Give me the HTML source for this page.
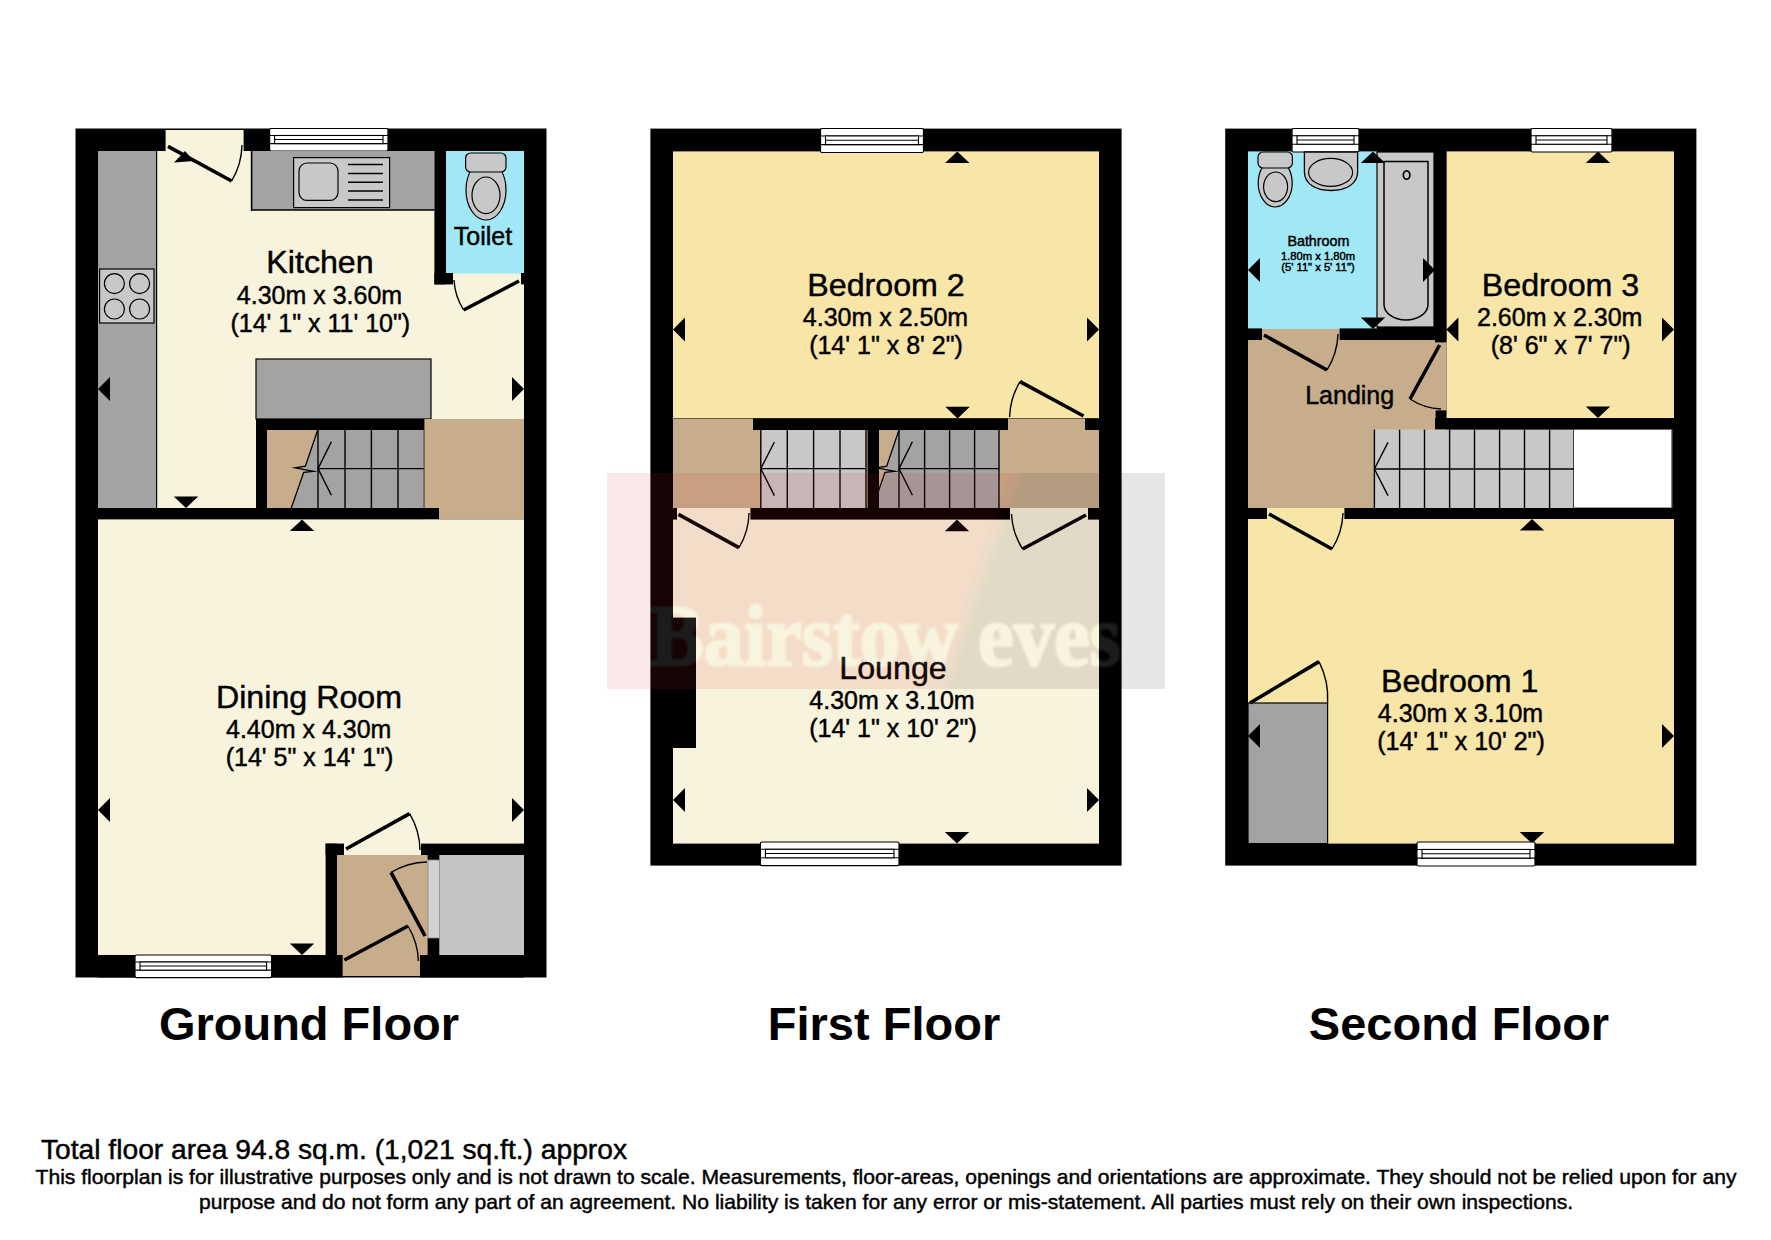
<!DOCTYPE html>
<html><head><meta charset="utf-8"><style>
html,body{margin:0;padding:0;background:#fff;}
svg{display:block;}
text{font-family:"Liberation Sans",sans-serif;}
</style></head><body>
<svg width="1771" height="1240" viewBox="0 0 1771 1240">
<rect width="1771" height="1240" fill="#fff"/>
<rect x="75.5" y="128.5" width="471.0" height="849.0" fill="#000" />
<rect x="98" y="151" width="426" height="357" fill="#f8f3dc" />
<rect x="165.6" y="130" width="78.0" height="21" fill="#f8f3dc" />
<rect x="269.6" y="128.5" width="118.39999999999998" height="22.5" rx="1.5" fill="#fff" stroke="#000" stroke-width="1.2"/>
<line x1="269.6" y1="135.475" x2="388" y2="135.475" stroke="#000" stroke-width="1.1" />
<line x1="269.6" y1="143.575" x2="388" y2="143.575" stroke="#000" stroke-width="1.1" />
<rect x="274.6" y="135.475" width="108.39999999999998" height="8.099999999999994" fill="#fff" stroke="#000" stroke-width="1.1"/>
<line x1="274.6" y1="139.52499999999998" x2="383" y2="139.52499999999998" stroke="#000" stroke-width="1.1" />
<rect x="98" y="151" width="59" height="357" fill="#a3a3a3" />
<line x1="156.6" y1="151" x2="156.6" y2="508" stroke="#000" stroke-width="1.2" />
<rect x="251" y="151" width="183.4" height="59" fill="#a3a3a3" />
<line x1="251.6" y1="151" x2="251.6" y2="210.8" stroke="#000" stroke-width="1.6" />
<line x1="251" y1="210" x2="434.4" y2="210" stroke="#000" stroke-width="1.7" />
<rect x="293.6" y="157.6" width="96.0" height="50.0" fill="#c8c8c8" stroke="#000" stroke-width="1.2"/>
<rect x="299" y="163" width="39" height="37.4" fill="#c8c8c8" rx="8" stroke="#000" stroke-width="1.2"/>
<line x1="348" y1="164.4" x2="383" y2="164.4" stroke="#000" stroke-width="1.5" />
<line x1="348" y1="173.4" x2="383" y2="173.4" stroke="#000" stroke-width="1.5" />
<line x1="348" y1="182.2" x2="383" y2="182.2" stroke="#000" stroke-width="1.5" />
<line x1="348" y1="191" x2="383" y2="191" stroke="#000" stroke-width="1.5" />
<line x1="348" y1="200" x2="383" y2="200" stroke="#000" stroke-width="1.5" />
<rect x="99.6" y="269" width="54.4" height="54" fill="#c8c8c8" stroke="#000" stroke-width="1.2"/>
<circle cx="114.4" cy="283.6" r="10" fill="#c8c8c8" stroke="#000" stroke-width="1.2"/>
<circle cx="139.6" cy="283.6" r="10" fill="#c8c8c8" stroke="#000" stroke-width="1.2"/>
<circle cx="114.4" cy="309" r="10" fill="#c8c8c8" stroke="#000" stroke-width="1.2"/>
<circle cx="139.6" cy="309" r="10" fill="#c8c8c8" stroke="#000" stroke-width="1.2"/>
<rect x="434.4" y="151" width="11.6" height="133.4" fill="#000" />
<rect x="446" y="151" width="78" height="122.6" fill="#a1e8f6" />
<rect x="434.4" y="273" width="18.6" height="11.4" fill="#000" />
<rect x="521" y="273" width="3" height="11.4" fill="#000" />
<ellipse cx="486" cy="190" rx="20" ry="30" fill="#c8c8c8" stroke="#000" stroke-width="1.2"/>
<rect x="465.6" y="153" width="40.4" height="19" fill="#c8c8c8" rx="5" stroke="#000" stroke-width="1.2"/>
<ellipse cx="486" cy="195.3" rx="14" ry="18.3" fill="#c8c8c8" stroke="#000" stroke-width="1.2"/>
<text x="483" y="245" font-size="25" font-weight="400" text-anchor="middle" fill="#000" stroke="#000" stroke-width="0.45">Toilet</text>
<line x1="519" y1="281" x2="463.6" y2="310" stroke="#000" stroke-width="3.6" stroke-linecap="butt"/>
<path d="M463.6,310 A62.5,62.5 0 0 1 454,280" fill="none" stroke="#000" stroke-width="1.4" />
<rect x="256" y="359" width="175" height="60" fill="#a3a3a3" stroke="#000" stroke-width="1.2"/>
<rect x="267" y="430" width="157.4" height="78" fill="#c8ad8c" />
<polygon points="317.7,430 305.4,466.2 295.1,467.9 313.6,471.3 303.7,472.3 291.3,508 424.4,508 424.4,430" fill="#a3a3a3"/>
<path d="M317.7,430.0 L305.4,466.2 L295.1,467.9 L313.6,471.3 L303.7,472.3 L291.3,508.0" fill="none" stroke="#000" stroke-width="1.3" stroke-linejoin="miter" stroke-miterlimit="10"/>
<line x1="318" y1="430" x2="318" y2="508" stroke="#000" stroke-width="1.4" />
<line x1="345" y1="430" x2="345" y2="508" stroke="#000" stroke-width="1.4" />
<line x1="371.4" y1="430" x2="371.4" y2="508" stroke="#000" stroke-width="1.4" />
<line x1="398" y1="430" x2="398" y2="508" stroke="#000" stroke-width="1.4" />
<line x1="424.4" y1="430" x2="424.4" y2="508" stroke="#000" stroke-width="1.4" />
<line x1="318" y1="468.6" x2="424.4" y2="468.6" stroke="#000" stroke-width="1.4" />
<line x1="318" y1="468.6" x2="331.4" y2="441.8" stroke="#000" stroke-width="1.4" />
<line x1="318" y1="468.6" x2="331.4" y2="495.3" stroke="#000" stroke-width="1.4" />
<rect x="256" y="419" width="183" height="11" fill="#000" />
<rect x="256" y="419" width="11" height="89" fill="#000" />
<rect x="424.4" y="419" width="99.6" height="100.4" fill="#c8ad8c" />
<rect x="98" y="508" width="341" height="11.4" fill="#000" />
<rect x="98" y="519.4" width="426" height="435.6" fill="#f8f3dc" />
<rect x="337" y="855" width="91" height="100" fill="#c8ad8c" />
<rect x="342.4" y="955" width="77.6" height="21" fill="#c8ad8c" />
<rect x="325.6" y="843.6" width="11.4" height="111.4" fill="#000" />
<rect x="325.6" y="843.6" width="18.4" height="11.4" fill="#000" />
<rect x="421" y="843.6" width="103" height="11.4" fill="#000" />
<rect x="427.6" y="855" width="12.0" height="5" fill="#000" />
<rect x="427.6" y="938" width="12.0" height="17" fill="#000" />
<rect x="439.6" y="855" width="84.4" height="100" fill="#c4c4c4" />
<rect x="428" y="860" width="11.6" height="78" fill="#d2d2d2" stroke="#888" stroke-width="0.8"/>
<rect x="98" y="955" width="244.4" height="22.5" fill="#000" />
<rect x="420" y="955" width="104" height="22.5" fill="#000" />
<rect x="135" y="955" width="136.60000000000002" height="22.600000000000023" rx="1.5" fill="#fff" stroke="#000" stroke-width="1.2"/>
<line x1="135" y1="962.006" x2="271.6" y2="962.006" stroke="#000" stroke-width="1.1" />
<line x1="135" y1="970.142" x2="271.6" y2="970.142" stroke="#000" stroke-width="1.1" />
<rect x="140" y="962.006" width="126.60000000000002" height="8.136000000000081" fill="#fff" stroke="#000" stroke-width="1.1"/>
<line x1="140" y1="966.0740000000001" x2="266.6" y2="966.0740000000001" stroke="#000" stroke-width="1.1" />
<polygon points="98,389 110,377 110,401" fill="#000"/>
<polygon points="524,389 512,377 512,401" fill="#000"/>
<polygon points="186,508 173.8,496.4 198.2,496.4" fill="#000"/>
<polygon points="302,519.4 289.8,531.0 314.2,531.0" fill="#000"/>
<polygon points="98,810 110,798 110,822" fill="#000"/>
<polygon points="524,810 512,798 512,822" fill="#000"/>
<polygon points="302,955 289.8,943.4 314.2,943.4" fill="#000"/>
<line x1="168" y1="146.4" x2="231.6" y2="181" stroke="#000" stroke-width="3.6" stroke-linecap="butt"/>
<path d="M231.6,181 A72.4,72.4 0 0 0 242,145" fill="none" stroke="#000" stroke-width="1.4" />
<polygon points="174,162.5 185,151 194,161" fill="#000"/>
<line x1="346" y1="849" x2="409.6" y2="813.6" stroke="#000" stroke-width="3.6" stroke-linecap="butt"/>
<path d="M409.6,813.6 A72.8,72.8 0 0 1 420,850" fill="none" stroke="#000" stroke-width="1.4" />
<line x1="425" y1="936" x2="391" y2="872.4" stroke="#000" stroke-width="3.6" stroke-linecap="butt"/>
<path d="M391,872.4 A72.1,72.1 0 0 1 427,862" fill="none" stroke="#000" stroke-width="1.4" />
<line x1="344.4" y1="960" x2="408" y2="926" stroke="#000" stroke-width="3.6" stroke-linecap="butt"/>
<path d="M408,926 A72.1,72.1 0 0 1 418.4,961" fill="none" stroke="#000" stroke-width="1.4" />
<text x="320" y="273" font-size="32.2" font-weight="400" text-anchor="middle" fill="#000" stroke="#000" stroke-width="0.45">Kitchen</text>
<text x="319.5" y="304" font-size="25" font-weight="400" text-anchor="middle" fill="#000" stroke="#000" stroke-width="0.45">4.30m x 3.60m</text>
<text x="320.3" y="332" font-size="25" font-weight="400" text-anchor="middle" fill="#000" stroke="#000" stroke-width="0.45">(14' 1&quot; x 11' 10&quot;)</text>
<text x="309" y="708.4" font-size="32.2" font-weight="400" text-anchor="middle" fill="#000" stroke="#000" stroke-width="0.45">Dining Room</text>
<text x="308.7" y="738" font-size="25" font-weight="400" text-anchor="middle" fill="#000" stroke="#000" stroke-width="0.45">4.40m x 4.30m</text>
<text x="309.5" y="766" font-size="25" font-weight="400" text-anchor="middle" fill="#000" stroke="#000" stroke-width="0.45">(14' 5&quot; x 14' 1&quot;)</text>
<text x="309" y="1040" font-size="47.0" font-weight="700" text-anchor="middle" fill="#000">Ground Floor</text>
<rect x="650.4" y="128.6" width="471.2" height="737.0" fill="#000" />
<rect x="673" y="151.4" width="426" height="267.0" fill="#f8e5a8" />
<rect x="820.5" y="128.5" width="103.0" height="24.0" rx="1.5" fill="#fff" stroke="#000" stroke-width="1.2"/>
<line x1="820.5" y1="135.94" x2="923.5" y2="135.94" stroke="#000" stroke-width="1.1" />
<line x1="820.5" y1="144.58" x2="923.5" y2="144.58" stroke="#000" stroke-width="1.1" />
<rect x="825.5" y="135.94" width="93.0" height="8.640000000000015" fill="#fff" stroke="#000" stroke-width="1.1"/>
<line x1="825.5" y1="140.26" x2="918.5" y2="140.26" stroke="#000" stroke-width="1.1" />
<polygon points="957.3,151.4 945.0999999999999,163.0 969.5,163.0" fill="#000"/>
<polygon points="673,329.6 685,317.6 685,341.6" fill="#000"/>
<polygon points="1099,329.6 1087,317.6 1087,341.6" fill="#000"/>
<polygon points="957.6,418.4 945.4,406.79999999999995 969.8000000000001,406.79999999999995" fill="#000"/>
<rect x="673" y="419" width="426" height="89" fill="#c8ad8c" />
<rect x="760.8" y="430" width="105.2" height="78" fill="#c8c8c8" />
<line x1="760.8" y1="430" x2="760.8" y2="508" stroke="#000" stroke-width="1.4" />
<line x1="787.3" y1="430" x2="787.3" y2="508" stroke="#000" stroke-width="1.4" />
<line x1="813.6" y1="430" x2="813.6" y2="508" stroke="#000" stroke-width="1.4" />
<line x1="840" y1="430" x2="840" y2="508" stroke="#000" stroke-width="1.4" />
<line x1="866" y1="430" x2="866" y2="508" stroke="#000" stroke-width="1.4" />
<line x1="760.8" y1="468.6" x2="866" y2="468.6" stroke="#000" stroke-width="1.4" />
<line x1="760.8" y1="468.6" x2="774.4" y2="442" stroke="#000" stroke-width="1.4" />
<line x1="760.8" y1="468.6" x2="774.4" y2="495.6" stroke="#000" stroke-width="1.4" />
<polygon points="899.0,430 886.6999999999999,466.2 876.4,467.9 894.9,471.3 885.0,472.3 872.5999999999999,508 999,508 999,430" fill="#a3a3a3"/>
<path d="M899.0,430.0 L886.7,466.2 L876.4,467.9 L894.9,471.3 L885.0,472.3 L872.6,508.0" fill="none" stroke="#000" stroke-width="1.3" stroke-linejoin="miter" stroke-miterlimit="10"/>
<line x1="899" y1="430" x2="899" y2="508" stroke="#000" stroke-width="1.4" />
<line x1="924.6" y1="430" x2="924.6" y2="508" stroke="#000" stroke-width="1.4" />
<line x1="949.6" y1="430" x2="949.6" y2="508" stroke="#000" stroke-width="1.4" />
<line x1="974.6" y1="430" x2="974.6" y2="508" stroke="#000" stroke-width="1.4" />
<line x1="999" y1="430" x2="999" y2="508" stroke="#000" stroke-width="1.4" />
<line x1="899" y1="468.6" x2="999" y2="468.6" stroke="#000" stroke-width="1.4" />
<line x1="899" y1="468.6" x2="912.4" y2="441.8" stroke="#000" stroke-width="1.4" />
<line x1="899" y1="468.6" x2="912.4" y2="495.3" stroke="#000" stroke-width="1.4" />
<rect x="867.6" y="430" width="11.4" height="79" fill="#000" />
<rect x="753" y="418.4" width="255" height="11.6" fill="#000" />
<rect x="1085" y="418.4" width="14" height="11.6" fill="#000" />
<line x1="1083.6" y1="416" x2="1020" y2="381.6" stroke="#000" stroke-width="3.6" stroke-linecap="butt"/>
<path d="M1020,381.6 A72.3,72.3 0 0 0 1009.6,417" fill="none" stroke="#000" stroke-width="1.4" />
<rect x="673" y="508" width="426" height="335.6" fill="#f8f3dc" />
<rect x="750.4" y="508" width="259.6" height="11.6" fill="#000" />
<rect x="1088" y="508" width="11" height="11.6" fill="#000" />
<rect x="673" y="508" width="4" height="11.6" fill="#000" />
<line x1="678.4" y1="514.4" x2="739" y2="547.6" stroke="#000" stroke-width="3.6" stroke-linecap="butt"/>
<path d="M739,547.6 A69.1,69.1 0 0 0 749,513" fill="none" stroke="#000" stroke-width="1.4" />
<line x1="1086" y1="515" x2="1022.6" y2="549" stroke="#000" stroke-width="3.6" stroke-linecap="butt"/>
<path d="M1022.6,549 A71.9,71.9 0 0 1 1011.5,514" fill="none" stroke="#000" stroke-width="1.4" />
<polygon points="957,519.6 944.8,531.2 969.2,531.2" fill="#000"/>
<rect x="673" y="617.6" width="23" height="130.4" fill="#000" />
<polygon points="673,800 685,788 685,812" fill="#000"/>
<polygon points="1099,800 1087,788 1087,812" fill="#000"/>
<polygon points="957,843.6 944.8,832.0 969.2,832.0" fill="#000"/>
<rect x="760.4" y="842" width="138.60000000000002" height="23.600000000000023" rx="1.5" fill="#fff" stroke="#000" stroke-width="1.2"/>
<line x1="760.4" y1="849.316" x2="899" y2="849.316" stroke="#000" stroke-width="1.1" />
<line x1="760.4" y1="857.812" x2="899" y2="857.812" stroke="#000" stroke-width="1.1" />
<rect x="765.4" y="849.316" width="128.60000000000002" height="8.495999999999981" fill="#fff" stroke="#000" stroke-width="1.1"/>
<line x1="765.4" y1="853.5640000000001" x2="894" y2="853.5640000000001" stroke="#000" stroke-width="1.1" />
<text x="886" y="296" font-size="32.2" font-weight="400" text-anchor="middle" fill="#000" stroke="#000" stroke-width="0.45">Bedroom 2</text>
<text x="885.5" y="326" font-size="25" font-weight="400" text-anchor="middle" fill="#000" stroke="#000" stroke-width="0.45">4.30m x 2.50m</text>
<text x="886" y="354.4" font-size="25" font-weight="400" text-anchor="middle" fill="#000" stroke="#000" stroke-width="0.45">(14' 1&quot; x 8' 2&quot;)</text>
<text x="893" y="679" font-size="32.2" font-weight="400" text-anchor="middle" fill="#000" stroke="#000" stroke-width="0.45">Lounge</text>
<text x="892" y="709" font-size="25" font-weight="400" text-anchor="middle" fill="#000" stroke="#000" stroke-width="0.45">4.30m x 3.10m</text>
<text x="893" y="737" font-size="25" font-weight="400" text-anchor="middle" fill="#000" stroke="#000" stroke-width="0.45">(14' 1&quot; x 10' 2&quot;)</text>
<text x="884" y="1040" font-size="47.0" font-weight="700" text-anchor="middle" fill="#000">First Floor</text>
<rect x="1225.2" y="128.6" width="471.2" height="737.0" fill="#000" />
<rect x="1248" y="151.4" width="129" height="177.6" fill="#a1e8f6" />
<rect x="1377" y="152" width="57" height="175" fill="#c8c8c8" stroke="#000" stroke-width="1.2"/>
<path d="M1384,161.6 L1428,161.6 L1428,304.5 A22,15.5 0 0 1 1384,304.5 Z" fill="#c8c8c8" stroke="#000" stroke-width="1.5" />
<ellipse cx="1406.6" cy="175" rx="3.3" ry="4.2" fill="none" stroke="#000" stroke-width="1.7"/>
<rect x="1446.4" y="151.4" width="227.6" height="266.6" fill="#f8e5a8" />
<rect x="1292" y="128.5" width="67" height="23.5" rx="1.5" fill="#fff" stroke="#000" stroke-width="1.2"/>
<line x1="1292" y1="135.785" x2="1359" y2="135.785" stroke="#000" stroke-width="1.1" />
<line x1="1292" y1="144.245" x2="1359" y2="144.245" stroke="#000" stroke-width="1.1" />
<rect x="1297" y="135.785" width="57" height="8.460000000000008" fill="#fff" stroke="#000" stroke-width="1.1"/>
<line x1="1297" y1="140.015" x2="1354" y2="140.015" stroke="#000" stroke-width="1.1" />
<rect x="1531" y="128.5" width="81" height="23.5" rx="1.5" fill="#fff" stroke="#000" stroke-width="1.2"/>
<line x1="1531" y1="135.785" x2="1612" y2="135.785" stroke="#000" stroke-width="1.1" />
<line x1="1531" y1="144.245" x2="1612" y2="144.245" stroke="#000" stroke-width="1.1" />
<rect x="1536" y="135.785" width="71" height="8.460000000000008" fill="#fff" stroke="#000" stroke-width="1.1"/>
<line x1="1536" y1="140.015" x2="1607" y2="140.015" stroke="#000" stroke-width="1.1" />
<ellipse cx="1275.2" cy="183" rx="17" ry="24" fill="#c8c8c8" stroke="#000" stroke-width="1.2"/>
<rect x="1258" y="152" width="34.4" height="16" fill="#c8c8c8" rx="5" stroke="#000" stroke-width="1.2"/>
<ellipse cx="1275.6" cy="186.8" rx="12" ry="14.8" fill="#c8c8c8" stroke="#000" stroke-width="1.2"/>
<path d="M1304.4,152 L1357.6,152 L1357.6,172 C1357.6,184 1346,190.5 1331,190.5 C1316,190.5 1304.4,184 1304.4,172 Z" fill="#c8c8c8" stroke="#000" stroke-width="1.3" />
<ellipse cx="1330.6" cy="172.4" rx="22" ry="14" fill="#c8c8c8" stroke="#000" stroke-width="1.2"/>
<polygon points="1373,151.4 1360.8,163.0 1385.2,163.0" fill="#000"/>
<polygon points="1373,329 1360.8,317.4 1385.2,317.4" fill="#000"/>
<polygon points="1248,270 1260,258 1260,282" fill="#000"/>
<polygon points="1435,270 1423,258 1423,282" fill="#000"/>
<text x="1318.4" y="245.6" font-size="14.3" font-weight="400" text-anchor="middle" fill="#000" stroke="#000" stroke-width="0.45">Bathroom</text>
<text x="1318" y="259.6" font-size="11.2" font-weight="400" text-anchor="middle" fill="#000" stroke="#000" stroke-width="0.45">1.80m x 1.80m</text>
<text x="1318" y="271.3" font-size="11.2" font-weight="400" text-anchor="middle" fill="#000" stroke="#000" stroke-width="0.45">(5' 11&quot; x 5' 11&quot;)</text>
<rect x="1248" y="329" width="198.4" height="179" fill="#c8ad8c" />
<rect x="1248" y="328.4" width="14" height="11.6" fill="#000" />
<rect x="1339.6" y="328.4" width="106.8" height="11.6" fill="#000" />
<line x1="1264" y1="335" x2="1327" y2="370" stroke="#000" stroke-width="3.6" stroke-linecap="butt"/>
<path d="M1327,370 A72.1,72.1 0 0 0 1338,334" fill="none" stroke="#000" stroke-width="1.4" />
<line x1="1439.6" y1="345" x2="1410" y2="399" stroke="#000" stroke-width="3.6" stroke-linecap="butt"/>
<path d="M1410,399 A61.6,61.6 0 0 0 1441,409" fill="none" stroke="#000" stroke-width="1.4" />
<rect x="1435" y="151.4" width="11.4" height="191.0" fill="#000" />
<rect x="1435.6" y="410.4" width="10.8" height="7.6" fill="#000" />
<rect x="1435" y="418" width="239" height="11.6" fill="#000" />
<polygon points="1598,151.4 1585.8,163.0 1610.2,163.0" fill="#000"/>
<polygon points="1598,418 1585.8,406.4 1610.2,406.4" fill="#000"/>
<polygon points="1446.4,329.6 1458.4,317.6 1458.4,341.6" fill="#000"/>
<polygon points="1674,329.6 1662,317.6 1662,341.6" fill="#000"/>
<text x="1349.7" y="404" font-size="25" font-weight="400" text-anchor="middle" fill="#000" stroke="#000" stroke-width="0.45">Landing</text>
<rect x="1374.4" y="429.6" width="199.6" height="78.4" fill="#c8c8c8" />
<line x1="1374.4" y1="429.6" x2="1374.4" y2="508" stroke="#000" stroke-width="1.4" />
<line x1="1399.6" y1="429.6" x2="1399.6" y2="508" stroke="#000" stroke-width="1.4" />
<line x1="1424.5" y1="429.6" x2="1424.5" y2="508" stroke="#000" stroke-width="1.4" />
<line x1="1449.6" y1="429.6" x2="1449.6" y2="508" stroke="#000" stroke-width="1.4" />
<line x1="1474.5" y1="429.6" x2="1474.5" y2="508" stroke="#000" stroke-width="1.4" />
<line x1="1499.6" y1="429.6" x2="1499.6" y2="508" stroke="#000" stroke-width="1.4" />
<line x1="1524.5" y1="429.6" x2="1524.5" y2="508" stroke="#000" stroke-width="1.4" />
<line x1="1549.6" y1="429.6" x2="1549.6" y2="508" stroke="#000" stroke-width="1.4" />
<line x1="1574" y1="429.6" x2="1574" y2="508" stroke="#000" stroke-width="1.4" />
<line x1="1374.4" y1="469" x2="1574" y2="469" stroke="#000" stroke-width="1.4" />
<line x1="1374.4" y1="469" x2="1388" y2="442.4" stroke="#000" stroke-width="1.4" />
<line x1="1374.4" y1="469" x2="1388" y2="495.6" stroke="#000" stroke-width="1.4" />
<rect x="1574" y="429.6" width="98.4" height="78.0" fill="#fff" />
<line x1="1672" y1="429.6" x2="1672" y2="507.6" stroke="#000" stroke-width="1" />
<rect x="1248" y="508" width="426" height="335.6" fill="#f8e5a8" />
<rect x="1248" y="508" width="19" height="11" fill="#000" />
<rect x="1344.4" y="508" width="329.6" height="11" fill="#000" />
<line x1="1269" y1="514" x2="1332" y2="549" stroke="#000" stroke-width="3.6" stroke-linecap="butt"/>
<path d="M1332,549 A72.1,72.1 0 0 0 1343,513" fill="none" stroke="#000" stroke-width="1.4" />
<polygon points="1532,519 1519.8,530.6 1544.2,530.6" fill="#000"/>
<rect x="1248" y="703" width="79.6" height="140.6" fill="#a3a3a3" stroke="#000" stroke-width="1.2"/>
<line x1="1250" y1="703" x2="1319" y2="661.6" stroke="#000" stroke-width="3.6" stroke-linecap="butt"/>
<path d="M1319,661.6 A80.5,80.5 0 0 1 1327.6,703" fill="none" stroke="#000" stroke-width="1.4" />
<polygon points="1248,736 1260,724 1260,748" fill="#000"/>
<polygon points="1674,736 1662,724 1662,748" fill="#000"/>
<polygon points="1532,843.6 1519.8,832.0 1544.2,832.0" fill="#000"/>
<rect x="1417" y="842" width="118" height="24" rx="1.5" fill="#fff" stroke="#000" stroke-width="1.2"/>
<line x1="1417" y1="849.44" x2="1535" y2="849.44" stroke="#000" stroke-width="1.1" />
<line x1="1417" y1="858.08" x2="1535" y2="858.08" stroke="#000" stroke-width="1.1" />
<rect x="1422" y="849.44" width="108" height="8.639999999999986" fill="#fff" stroke="#000" stroke-width="1.1"/>
<line x1="1422" y1="853.76" x2="1530" y2="853.76" stroke="#000" stroke-width="1.1" />
<text x="1560.5" y="295.6" font-size="32.2" font-weight="400" text-anchor="middle" fill="#000" stroke="#000" stroke-width="0.45">Bedroom 3</text>
<text x="1559.7" y="326" font-size="25" font-weight="400" text-anchor="middle" fill="#000" stroke="#000" stroke-width="0.45">2.60m x 2.30m</text>
<text x="1560.7" y="354" font-size="25" font-weight="400" text-anchor="middle" fill="#000" stroke="#000" stroke-width="0.45">(8' 6&quot; x 7' 7&quot;)</text>
<text x="1459.7" y="692" font-size="32.2" font-weight="400" text-anchor="middle" fill="#000" stroke="#000" stroke-width="0.45">Bedroom 1</text>
<text x="1460.5" y="722.4" font-size="25" font-weight="400" text-anchor="middle" fill="#000" stroke="#000" stroke-width="0.45">4.30m x 3.10m</text>
<text x="1461" y="750.4" font-size="25" font-weight="400" text-anchor="middle" fill="#000" stroke="#000" stroke-width="0.45">(14' 1&quot; x 10' 2&quot;)</text>
<text x="1459" y="1040" font-size="47.0" font-weight="700" text-anchor="middle" fill="#000">Second Floor</text>
<defs><filter id="wb" x="-5%" y="-20%" width="110%" height="140%"><feGaussianBlur stdDeviation="1.2"/></filter><mask id="wm" maskUnits="userSpaceOnUse" x="590" y="450" width="600" height="260"><rect x="590" y="450" width="600" height="260" fill="#fff"/><g filter="url(#wb)"><text transform="translate(885.5,664.5) scale(0.934,1)" x="0" y="0" style="font-family:'Liberation Serif',serif" font-size="86" font-weight="700" text-anchor="middle" fill="#000" stroke="#000" stroke-width="2.4">Bairstow eves</text></g></mask></defs>
<g mask="url(#wm)">
<linearGradient id="wg" gradientUnits="userSpaceOnUse" x1="970" y1="577.6" x2="990" y2="584.4"><stop offset="0" stop-color="rgb(208,38,38)" stop-opacity="0.106"/><stop offset="1" stop-color="rgb(20,0,20)" stop-opacity="0.1"/></linearGradient>
<rect x="607" y="473" width="558" height="216" fill="url(#wg)"/>
</g>
<g opacity="0.11" filter="url(#wb)"><text transform="translate(885.5,664.5) scale(0.934,1)" x="0" y="0" style="font-family:'Liberation Serif',serif" font-size="86" font-weight="700" text-anchor="middle" fill="#fff" stroke="#fff" stroke-width="2.4">Bairstow eves</text></g>
<text x="41" y="1159" font-size="28.2" font-weight="400" text-anchor="start" fill="#000" stroke="#000" stroke-width="0.45">Total floor area 94.8 sq.m. (1,021 sq.ft.) approx</text>
<text x="886" y="1184.4" font-size="21.1" font-weight="400" text-anchor="middle" fill="#000" stroke="#000" stroke-width="0.45">This floorplan is for illustrative purposes only and is not drawn to scale. Measurements, floor-areas, openings and orientations are approximate. They should not be relied upon for any</text>
<text x="886" y="1209" font-size="21.1" font-weight="400" text-anchor="middle" fill="#000" stroke="#000" stroke-width="0.45">purpose and do not form any part of an agreement. No liability is taken for any error or mis-statement. All parties must rely on their own inspections.</text>
</svg>
</body></html>
